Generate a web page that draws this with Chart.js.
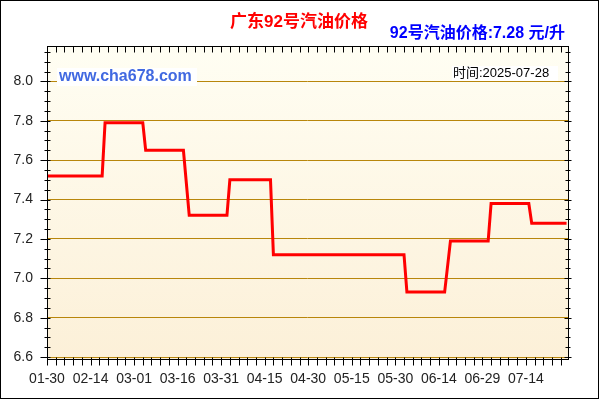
<!DOCTYPE html>
<html>
<head>
<meta charset="utf-8">
<script src="https://cdn.jsdelivr.net/npm/chart.js@4"></script>
<style>
body{margin:0;background:#fff}
</style>
</head>
<body>
<canvas id="price" width="600" height="400"></canvas>
<script>
// ===== data =====
const dates = ['01-30','02-18','02-19','03-04','03-05','03-18','03-20','04-02','04-03','04-17',
               '04-18','06-02','06-03','06-16','06-18','07-01','07-02','07-15','07-16','07-28'];
const prices = [7.52,7.52,7.79,7.79,7.65,7.65,7.32,7.32,7.50,7.50,
                7.12,7.12,6.93,6.93,7.19,7.19,7.38,7.38,7.28,7.28];
const tickLabels = ['01-30','02-14','03-01','03-16','03-31','04-15','04-30','05-15','05-30','06-14','06-29','07-14'];
const yLabels = [6.6,6.8,7.0,7.2,7.4,7.6,7.8,8.0];
const title = '广东92号汽油价格';
const subTitle = '92号汽油价格:7.28 元/升';
const site = 'www.cha678.com';
const stamp = '时间:2025-07-28';

// ===== day index from 01-30 =====
const start = Date.UTC(2025, 0, 30);
function dayOf(s){
    return (Date.UTC(2025, +s.slice(0,2) - 1, +s.slice(3)) - start) / 864e5;
}
const points = dates.map((d, i) => ({x: dayOf(d), y: prices[i]}));
const tickDays = tickLabels.map(dayOf);
const lastDay = dayOf(dates[dates.length - 1]);

const font = '"Liberation Sans", Arial, "Noto Sans CJK SC", sans-serif';

// ===== background, boxes, minor ticks, titles =====
const frame = {
    id: 'frame',
    beforeDraw(chart){
        const {ctx, chartArea: a} = chart;
        ctx.save();
        ctx.fillStyle = '#fff';
        ctx.fillRect(0, 0, chart.width, chart.height);
        const g = ctx.createLinearGradient(0, a.top, 0, a.bottom);
        g.addColorStop(0, '#FFFEF3');
        g.addColorStop(1, '#FCF0D8');
        ctx.fillStyle = g;
        ctx.fillRect(a.left, a.top, a.right - a.left, a.bottom - a.top);
        ctx.restore();
    },
    afterDatasetsDraw(chart){
        const ctx = chart.ctx;
        ctx.save();
        ctx.fillStyle = '#fff';
        ctx.fillRect(57, 68, 140, 18);
        ctx.fillRect(452, 66, 106, 15);
        ctx.textBaseline = 'middle';
        ctx.textAlign = 'left';
        ctx.font = 'bold 16px ' + font;
        ctx.fillStyle = '#4169E1';
        ctx.fillText(site, 59, 77);
        ctx.font = '13px ' + font;
        ctx.fillStyle = '#000';
        ctx.fillText(stamp, 453, 73.5);
        ctx.restore();
    },
    afterDraw(chart){
        const {ctx, chartArea: a, scales: {x, y}} = chart;
        const L = Math.round(a.left) + 0.5, R = Math.round(a.right) + 0.5;
        const T = Math.round(a.top) + 0.5, B = Math.round(a.bottom) + 0.5;
        ctx.save();
        ctx.strokeStyle = '#000';
        ctx.lineWidth = 1;
        ctx.strokeRect(L, T, R - L, B - T);
        ctx.beginPath();
        // every 3 days on top and bottom
        for (let d = 0; d <= lastDay; d += 3) {
            const px = Math.round(x.getPixelForValue(d)) + 0.5;
            ctx.moveTo(px, T); ctx.lineTo(px, T + 6);
            ctx.moveTo(px, B - 2); ctx.lineTo(px, B + 6);
        }
        // every 0.05 on left and right
        for (let k = 0; k < 32; k++) {
            const v = 6.6 + k * 0.05;
            const py = Math.round(y.getPixelForValue(v)) + 0.5;
            const major = k % 4 === 0;
            ctx.moveTo(L - (major ? 7 : 3), py); ctx.lineTo(L + 3, py);
            ctx.moveTo(R - (major ? 4 : 3), py); ctx.lineTo(R + (major ? 3 : 2), py);
        }
        ctx.stroke();
        ctx.strokeRect(0.5, 0.5, 598, 398);

        ctx.textBaseline = 'middle';
        ctx.textAlign = 'center';
        ctx.font = 'bold 17px ' + font;
        ctx.fillStyle = '#FF0000';
        ctx.fillText(title, 299, 22);
        ctx.textAlign = 'right';
        ctx.font = 'bold 16px ' + font;
        ctx.fillStyle = '#0000FF';
        ctx.fillText(subTitle, 565, 34);
        ctx.restore();
    }
};

const ctx = document.getElementById('price').getContext('2d');
const priceChart = new Chart(ctx, {
    type: 'line',
    data: {
        datasets: [{
            data: points,
            borderColor: '#FF0000',
            borderWidth: 3,
            pointRadius: 0,
            tension: 0,
            fill: false
        }]
    },
    options: {
        responsive: false,
        animation: false,
        devicePixelRatio: 1,
        layout: {padding: {top: 46, right: 32, left: 0, bottom: 0}},
        scales: {
            x: {
                type: 'linear',
                min: 0,
                max: lastDay + 0.5,
                afterBuildTicks: s => { s.ticks = tickDays.map(v => ({value: v})); },
                afterFit: s => { s.height = 41; },
                ticks: {
                    callback: (v, i) => tickLabels[i],
                    autoSkip: false,
                    maxRotation: 0,
                    padding: 12,
                    color: '#222',
                    font: {size: 14, family: font}
                },
                grid: {display: false, drawTicks: false},
                border: {display: false}
            },
            y: {
                min: 6.59,
                max: 8.18,
                afterBuildTicks: s => { s.ticks = yLabels.map(v => ({value: v})); },
                afterFit: s => { s.width = 47; },
                ticks: {
                    callback: v => v.toFixed(1),
                    padding: 14,
                    color: '#222',
                    font: {size: 14, family: font}
                },
                grid: {color: '#B8860B', lineWidth: 1, drawTicks: false},
                border: {display: false}
            }
        },
        plugins: {
            legend: {display: false},
            tooltip: {enabled: false}
        }
    },
    plugins: [frame]
});
</script>
</body>
</html>
